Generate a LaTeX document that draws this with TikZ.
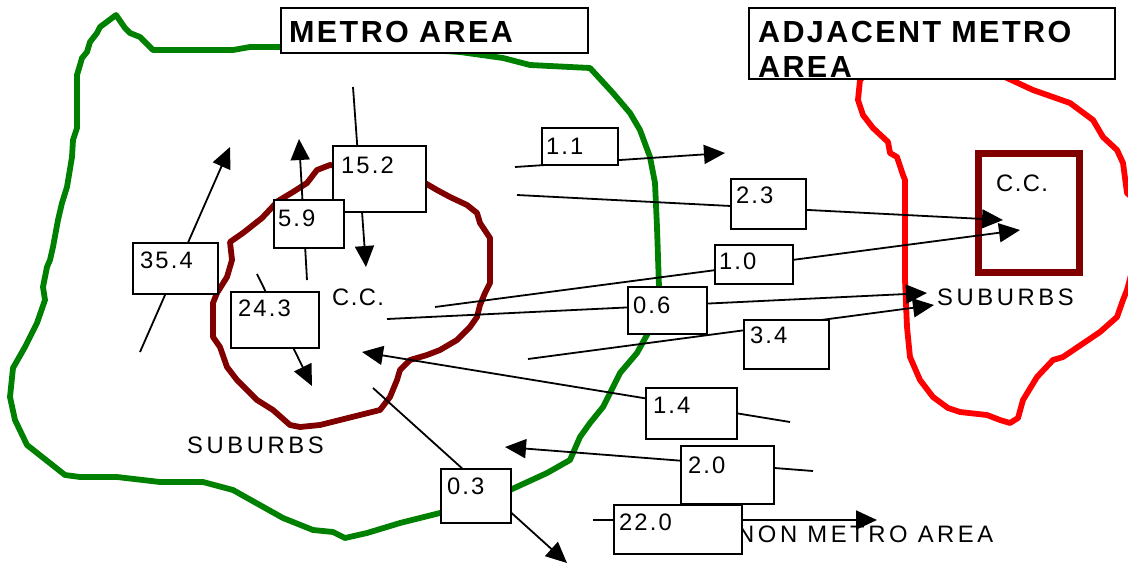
\documentclass[tikz,border=0pt]{standalone}
\usepackage{fontspec}
\setmainfont{Liberation Sans}
\newfontfamily\labfont[LetterSpace=15]{Liberation Sans}
\newfontfamily\ccfont[LetterSpace=6]{Liberation Sans}
\newfontfamily\numfont[LetterSpace=9]{Liberation Sans}
\newfontfamily\ttlfont[LetterSpace=8]{Liberation Sans}
\usetikzlibrary{arrows.meta}
\definecolor{metrogreen}{RGB}{0,128,0}
\definecolor{maroon}{RGB}{128,0,0}
\definecolor{adjred}{RGB}{255,0,0}
\begin{document}
\begin{tikzpicture}[x=1pt,y=-1pt,
  outline/.style={line width=5.8pt, line join=round, line cap=round},
  conn/.style={line width=1.8pt},
  arr/.style={conn, -{Triangle[length=21pt,width=19pt]}},
  numbox/.style={draw, fill=white, line width=2pt, anchor=north west, inner ysep=0pt, align=left, font=\numfont\fontsize{23.8}{28}\selectfont},
  ttlbox/.style={draw, fill=white, line width=2.2pt, anchor=north west, inner ysep=0pt, align=left, font=\ttlfont\bfseries\fontsize{30.5}{35}\selectfont},
  lbl/.style={anchor=base west, inner sep=0pt, font=\labfont\fontsize{23.8}{28}\selectfont},
  cclbl/.style={anchor=base west, inner sep=0pt, font=\ccfont\fontsize{23.8}{28}\selectfont}]
\useasboundingbox (0,0) rectangle (1128,563);
\clip (0,0) rectangle (1128,563);

% metro area outline
\draw[outline, metrogreen] (116,15) -- (125,28) -- (130,33) -- (140,37) -- (153,50) -- (233,50) -- (250,47) -- (280,47) -- (400,48) -- (460,52) -- (503,58) -- (530,65) -- (590,68) -- (613,93) -- (630,113) -- (640,130) -- (650,157) -- (655,183) -- (657,227) -- (658,257) -- (659,287) -- (655,320) -- (648,333) -- (637,353) -- (620,373) -- (610,393) -- (603,407) -- (590,423) -- (580,437) -- (570,460) -- (547,473) -- (510,490) -- (440,513) -- (400,523) -- (367,533) -- (345,538) -- (333,532) -- (313,530) -- (283,518) -- (233,490) -- (203,482) -- (160,482) -- (117,477) -- (80,477) -- (65,475) -- (27,445) -- (15,420) -- (10,397) -- (13,368) -- (25,347) -- (37,323) -- (45,300) -- (43,287) -- (47,267) -- (50,260) -- (53,247) -- (58,220) -- (62,203) -- (67,187) -- (72,157) -- (73,140) -- (77,128) -- (77,75) -- (80,65) -- (82,58) -- (87,52) -- (90,42) -- (97,33) -- (100,27) -- cycle;

% metro suburbs outline
\draw[outline, maroon] (330,165) -- (380,172) -- (425,183) -- (437,190) -- (450,197) -- (467,205) -- (477,213) -- (480,223) -- (490,238) -- (490,283) -- (485,293) -- (480,305) -- (477,317) -- (470,327) -- (457,340) -- (440,350) -- (427,355) -- (410,360) -- (400,370) -- (397,380) -- (390,397) -- (380,410) -- (320,425) -- (300,427) -- (290,425) -- (273,410) -- (257,400) -- (237,380) -- (227,367) -- (220,347) -- (213,337) -- (213,303) -- (217,293) -- (227,277) -- (232,260) -- (230,242) -- (243,233) -- (262,218) -- (278,201) -- (293,192) -- (307,183) -- (317,170) -- cycle;

% adjacent metro outline
\draw[outline, adjred] (870,70) -- (860,80) -- (858,100) -- (863,115) -- (873,128) -- (888,142) -- (890,153) -- (897,157) -- (903,175) -- (905,180) -- (905,280) -- (907,327) -- (910,357) -- (920,380) -- (933,397) -- (948,408) -- (960,412) -- (987,415) -- (1000,420) -- (1010,423) -- (1018,418) -- (1023,400) -- (1037,377) -- (1053,360) -- (1063,357) -- (1100,332) -- (1117,317) -- (1123,300) -- (1127,290) -- (1135,260) -- (1135,200) -- (1127,193) -- (1123,163) -- (1117,150) -- (1103,137) -- (1093,120) -- (1070,103) -- (1033,90) -- (1007,78) -- (990,70) -- cycle;

% adjacent city centre box
\node[draw=maroon, line width=7pt, outer sep=0pt, inner sep=0pt, anchor=north west, minimum width=101pt, minimum height=119pt] (ccbox) at (978,153) {};

% free texts
\node[cclbl] (cc1) at (332,305) {C.C.};
\node[cclbl] (cc2) at (996,191) {C.C.};
\node[lbl] (sub1) at (187,453) {SUBURBS};
\node[lbl] (sub2) at (937,305) {SUBURBS};
\node[lbl] (nonmetro) at (737,542) {NON METRO AREA};

% connector end points
\coordinate (a1s) at (353,87);   \coordinate (a1e) at (366,267);
\coordinate (a2s) at (307,280);  \coordinate (a2e) at (299,139);
\coordinate (a3s) at (140,352);  \coordinate (a3e) at (230,147);
\coordinate (a4s) at (257,274);  \coordinate (a4e) at (312,386);
\coordinate (a5s) at (515,167);  \coordinate (a5e) at (725,153);
\coordinate (a6s) at (517,195);  \coordinate (a6e) at (1003,220);
\coordinate (a7s) at (435,307);  \coordinate (a7e) at (1020,230);
\coordinate (a8s) at (387,319);  \coordinate (a8e) at (927,293);
\coordinate (a9s) at (528,359);  \coordinate (a9e) at (934,305);
\coordinate (a10s) at (790,422); \coordinate (a10e) at (362,352);
\coordinate (a11s) at (813,471); \coordinate (a11e) at (505,447);
\coordinate (a12s) at (373,388); \coordinate (a12e) at (567,563);
\coordinate (a13s) at (593,520); \coordinate (a13e) at (877,520);

\draw[arr] (a1s) -- (a1e);
\draw[arr] (a2s) -- (a2e);
\draw[arr] (a3s) -- (a3e);
\draw[arr] (a4s) -- (a4e);
\draw[arr] (a5s) -- (a5e);
\draw[arr] (a6s) -- (a6e);
\draw[arr] (a7s) -- (a7e);
\draw[arr] (a8s) -- (a8e);
\draw[arr] (a9s) -- (a9e);
\draw[arr] (a10s) -- (a10e);
\draw[arr] (a11s) -- (a11e);
\draw[arr] (a12s) -- (a12e);
\draw[arr] (a13s) -- (a13e);

% number boxes
\node[numbox, inner xsep=8pt, text width=77pt, text height=27pt, text depth=39pt] (n152) at (332,145) {15.2};
\node[numbox, inner xsep=4pt, text width=62pt, text height=26pt, text depth=22pt] (n59) at (273,199) {5.9};
\node[numbox, inner xsep=7pt, text width=74pt, text height=24pt, text depth=32pt] (n243) at (230,291) {24.3};
\node[numbox, inner xsep=7pt, text width=71pt, text height=25pt, text depth=26pt] (n354) at (132,242) {35.4};
\node[numbox, inner xsep=4pt, text width=68pt, text height=26pt, text depth=11pt] (n11) at (541,127) {1.1};
\node[numbox, inner xsep=5pt, text width=65pt, text height=24pt, text depth=26pt] (n23) at (730,178) {2.3};
\node[numbox, inner xsep=4pt, text width=70pt, text height=24pt, text depth=15pt] (n10) at (714,244) {1.0};
\node[numbox, inner xsep=5pt, text width=69pt, text height=26pt, text depth=21pt] (n06) at (627,286) {0.6};
\node[numbox, inner xsep=6pt, text width=73pt, text height=23pt, text depth=26pt] (n34) at (743,319) {3.4};
\node[numbox, inner xsep=7pt, text width=77pt, text height=25pt, text depth=26pt] (n14) at (645,387) {1.4};
\node[numbox, inner xsep=7pt, text width=79pt, text height=27pt, text depth=31pt] (n20) at (680,445) {2.0};
\node[numbox, inner xsep=6pt, text width=58pt, text height=25pt, text depth=29pt] (n03) at (440,468) {0.3};
\node[numbox, inner xsep=5pt, text width=118pt, text height=25pt, text depth=24pt] (n220) at (613,504) {22.0};

% titles
\node[ttlbox, inner xsep=8pt, text width=291pt, text height=34pt, text depth=11pt] (metro) at (280,7) {METRO AREA};
\node[ttlbox, inner xsep=9pt, text width=348pt, text height=34pt, text depth=37pt] (adjmetro) at (748,7) {ADJACENT METRO\\AREA};
\end{tikzpicture}
\end{document}
